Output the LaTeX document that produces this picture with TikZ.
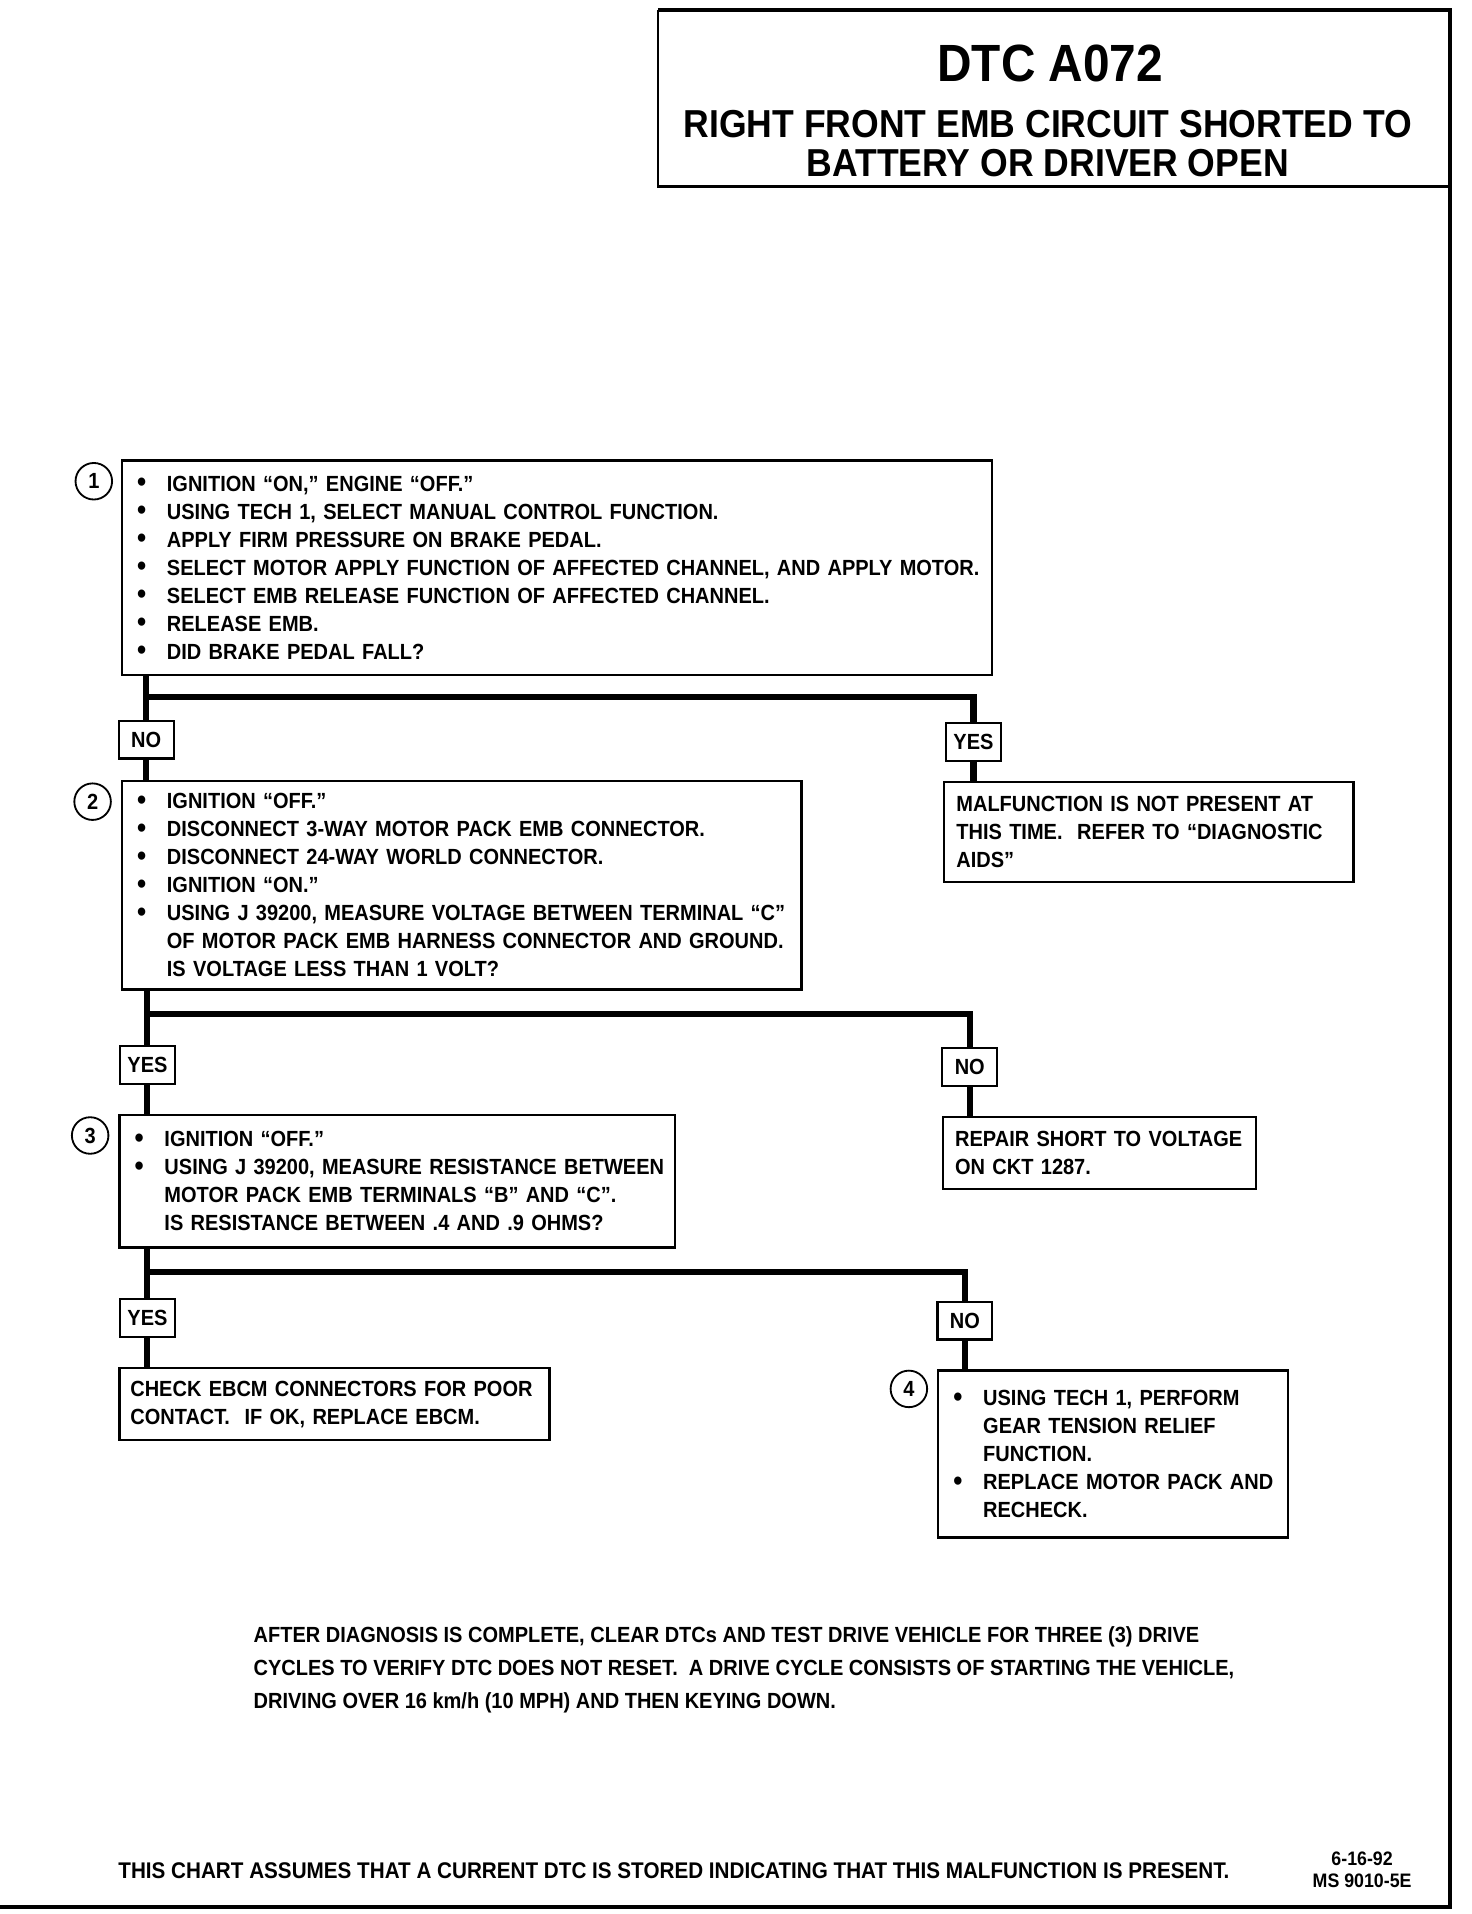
\documentclass[tikz,border=0pt]{standalone}
\usepackage{fontspec}
\setmainfont{Liberation Sans}[FakeStretch=0.912]
\newcommand{\itm}[1]{\mbox{\makebox[26pt][l]{\hspace{1.5pt}\raisebox{-0.5pt}{\scalebox{1.3}{\textbullet}}}#1}}
\newcommand{\cnt}[1]{\mbox{\hspace*{26pt}#1}}
\begin{document}
\begin{tikzpicture}[x=1pt,y=-1pt,
  txt/.style={font=\bfseries\fontsize{18}{23}\selectfont},
  stepbox/.style={txt,draw,line width=2pt,anchor=north west,align=left,inner xsep=11pt,inner ysep=0pt},
  answer/.style={txt,draw,line width=1.8pt,minimum width=45pt,minimum height=31pt,inner sep=0pt},
  num/.style={circle,draw,line width=1.5pt,minimum size=30pt,inner sep=0pt,font=\bfseries\fontsize{18}{18}\selectfont},
  conn/.style={line width=5pt}]
\useasboundingbox (0,0) rectangle (1208,1571);

% frame and title
\draw[line width=3pt] (540,8) -- (1190,8) -- (1190,1565) -- (0,1565);
\draw[line width=2pt] (540,8) -- (540,153) -- (1190,153);
\node[font=\bfseries\fontsize{43}{43}\selectfont,anchor=base] (dtc) at (862,67) {DTC A072};
\node[font=\bfseries\fontsize{32}{32}\selectfont,anchor=base] (title1) at (860,113) {RIGHT FRONT EMB CIRCUIT SHORTED TO};
\node[font=\bfseries\fontsize{32}{32}\selectfont,anchor=base] (title2) at (860,145) {BATTERY OR DRIVER OPEN};

% step 1
\node[stepbox,text width=692pt,minimum width=714pt,minimum height=176pt] (s1) at (99,377)
  {\itm{IGNITION “ON,” ENGINE “OFF.”}\\
   \itm{USING TECH 1, SELECT MANUAL CONTROL FUNCTION.}\\
   \itm{APPLY FIRM PRESSURE ON BRAKE PEDAL.}\\
   \itm{SELECT MOTOR APPLY FUNCTION OF AFFECTED CHANNEL, AND APPLY MOTOR.}\\
   \itm{SELECT EMB RELEASE FUNCTION OF AFFECTED CHANNEL.}\\
   \itm{RELEASE EMB.}\\
   \itm{DID BRAKE PEDAL FALL?}};
\node[num] (c1) at (77,395) {1};
\node[answer] (no1) at (120,607) {NO};
\node[answer] (yes1) at (799,609) {YES};
\node[stepbox,inner xsep=10pt,text width=316pt,minimum width=336pt,minimum height=82pt] (m1) at (774,641)
  {MALFUNCTION IS NOT PRESENT AT\\
   THIS TIME.~ REFER TO “DIAGNOSTIC\\
   AIDS”};
\coordinate (j1) at (120,572);
\draw[conn] (s1.south -| no1) -- (no1.north);
\draw[conn] (j1) -| (yes1.north);
\draw[conn] (no1.south) -- (no1.south |- 0,640);
\draw[conn] (yes1.south) -- (yes1.south |- m1.north);

% step 2
\node[stepbox,text width=536pt,minimum width=558pt,minimum height=171pt] (s2) at (99,640)
  {\itm{IGNITION “OFF.”}\\
   \itm{DISCONNECT 3-WAY MOTOR PACK EMB CONNECTOR.}\\
   \itm{DISCONNECT 24-WAY WORLD CONNECTOR.}\\
   \itm{IGNITION “ON.”}\\
   \itm{USING J 39200, MEASURE VOLTAGE BETWEEN TERMINAL “C”}\\
   \cnt{OF MOTOR PACK EMB HARNESS CONNECTOR AND GROUND.}\\
   \cnt{IS VOLTAGE LESS THAN 1 VOLT?}};
\node[num] (c2) at (76,658) {2};
\node[answer] (yes2) at (121,874) {YES};
\node[answer] (no2) at (796,876) {NO};
\node[stepbox,inner xsep=10pt,text width=237pt,minimum width=257pt,minimum height=59pt] (r2) at (773,916)
  {REPAIR SHORT TO VOLTAGE\\
   ON CKT 1287.};
\coordinate (j2) at (121,832);
\draw[conn] (s2.south -| yes2) -- (yes2.north);
\draw[conn] (j2) -| (no2.north);
\draw[conn] (yes2.south) -- (yes2.south |- 0,914);
\draw[conn] (no2.south) -- (no2.south |- r2.north);

% step 3
\node[stepbox,text width=434pt,minimum width=456pt,minimum height=109pt] (s3) at (97,914)
  {\itm{IGNITION “OFF.”}\\
   \itm{USING J 39200, MEASURE RESISTANCE BETWEEN}\\
   \cnt{MOTOR PACK EMB TERMINALS “B” AND “C”.}\\
   \cnt{IS RESISTANCE BETWEEN .4 AND .9 OHMS?}};
\node[num] (c3) at (74,932) {3};
\node[answer] (yes3) at (121,1082) {YES};
\node[answer] (no3) at (792,1084) {NO};
\node[stepbox,inner xsep=9pt,text width=335pt,minimum width=353pt,minimum height=59pt] (k3) at (97,1122)
  {CHECK EBCM CONNECTORS FOR POOR\\
   CONTACT.~ IF OK, REPLACE EBCM.};
\coordinate (j3) at (121,1044);
\draw[conn] (s3.south -| yes3) -- (yes3.north);
\draw[conn] (j3) -| (no3.north);
\draw[conn] (yes3.south) -- (yes3.south |- k3.north);
\draw[conn] (no3.south) -- (no3.south |- 0,1124);

% step 4
\node[stepbox,text width=265pt,minimum width=287pt,minimum height=137pt] (s4) at (769,1124)
  {\itm{USING TECH 1, PERFORM}\\
   \cnt{GEAR TENSION RELIEF}\\
   \cnt{FUNCTION.}\\
   \itm{REPLACE MOTOR PACK AND}\\
   \cnt{RECHECK.}};
\node[num] (c4) at (746,1140) {4};

% notes
\node[txt,font=\bfseries\fontsize{18}{27}\selectfont,anchor=north west,align=left,inner sep=0pt] (note) at (208,1335)
  {AFTER DIAGNOSIS IS COMPLETE, CLEAR DTCs AND TEST DRIVE VEHICLE FOR THREE (3) DRIVE\\
   CYCLES TO VERIFY DTC DOES NOT RESET.~ A DRIVE CYCLE CONSISTS OF STARTING THE VEHICLE,\\
   DRIVING OVER 16 km/h (10 MPH) AND THEN KEYING DOWN.};
\node[txt,font=\bfseries\fontsize{18.6}{23}\selectfont,anchor=base west,inner sep=0pt] (assume) at (97,1542)
  {THIS CHART ASSUMES THAT A CURRENT DTC IS STORED INDICATING THAT THIS MALFUNCTION IS PRESENT.};
\node[txt,font=\bfseries\fontsize{16}{16}\selectfont,anchor=base] (date) at (1118,1531) {6-16-92};
\node[txt,font=\bfseries\fontsize{16}{16}\selectfont,anchor=base] (ms) at (1118,1549) {MS 9010-5E};
\end{tikzpicture}
\end{document}
